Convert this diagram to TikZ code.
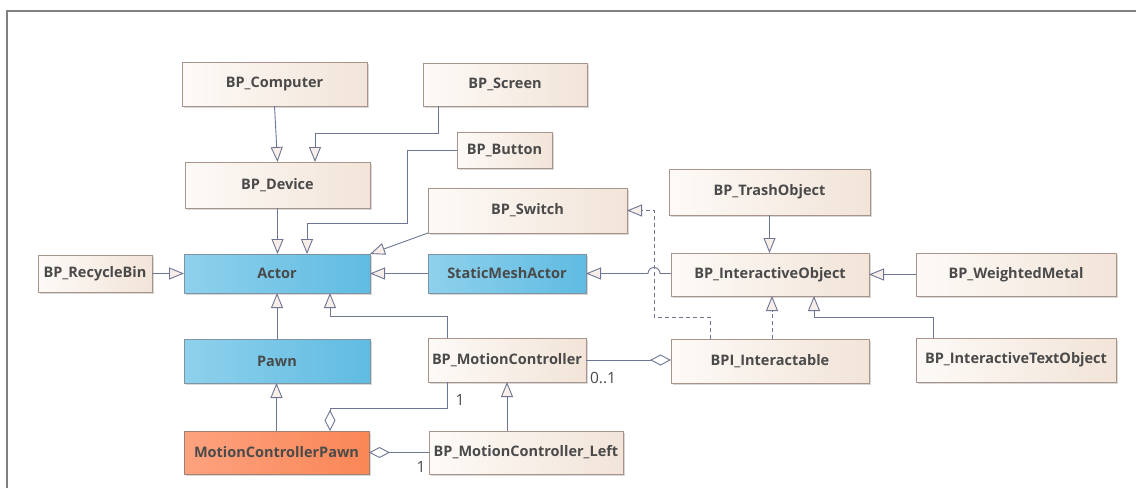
\documentclass[tikz,border=0pt]{standalone}
\usepackage{fontspec}
\setmainfont{Open Sans}
\usetikzlibrary{arrows.meta,shadows}

\definecolor{creamL}{HTML}{FDFAF7}
\definecolor{creamR}{HTML}{F2E4D8}
\definecolor{creamB}{HTML}{A8948A}
\definecolor{blueL}{HTML}{8ED1EC}
\definecolor{blueR}{HTML}{60BBE2}
\definecolor{blueB}{HTML}{7F93A0}
\definecolor{orL}{HTML}{FDA27F}
\definecolor{orR}{HTML}{FA8656}
\definecolor{orB}{HTML}{A08070}
\definecolor{txt}{HTML}{4A4A4A}
\definecolor{conn}{HTML}{6E7694}
\definecolor{tipfill}{HTML}{F7EEEA}
\definecolor{frame}{HTML}{808080}

\tikzset{
  cls/.style={line width=0.8pt, inner sep=0pt, outer sep=0pt,
    font=\bfseries\fontsize{14.5}{16}\selectfont, text=txt,
    drop shadow={shadow xshift=2pt, shadow yshift=-2pt, opacity=0.25, fill=black!60}},
  plain/.style={cls, draw=creamB, left color=creamL, right color=creamR},
  engine/.style={cls, draw=blueB, left color=blueL, right color=blueR},
  pawnbox/.style={cls, draw=orB, left color=orL, right color=orR},
  gen/.style={draw=conn, line width=0.9pt, -{Triangle[length=15pt,width=12pt,fill=tipfill]}},
  real/.style={gen, dash pattern=on 4pt off 3pt},
  agg/.style={draw=conn, line width=0.9pt, {Diamond[length=21pt,width=11pt,fill=white]}-},
  mult/.style={font=\fontsize{15.5}{17}\selectfont, text=txt, inner sep=0pt},
}

\begin{document}
\begin{tikzpicture}[x=1pt, y=-1pt]
\useasboundingbox (0,0) rectangle (1136,488);
\fill[white] (0,0) rectangle (1136,488);

% diagram frame
\draw[frame, line width=1.2pt] (7,488) -- (7,11) -- (1136,11);

% classes
\node[plain, minimum width=185pt, minimum height=44pt] (comp) at (274.5,84) {BP\_Computer};
\node[plain, minimum width=164pt, minimum height=43pt] (screen) at (505,84.5) {BP\_Screen};
\node[plain, minimum width=95pt, minimum height=36pt] (button) at (504.5,150) {BP\_Button};
\node[plain, minimum width=185pt, minimum height=46pt] (device) at (277.5,185) {BP\_Device};
\node[plain, minimum width=199pt, minimum height=45pt] (switch) at (527.5,210.5) {BP\_Switch};
\node[plain, minimum width=201pt, minimum height=46pt] (trash) at (769.5,192) {BP\_TrashObject};
\node[engine, minimum width=186pt, minimum height=39pt] (actor) at (277,273.5) {Actor};
\node[plain, minimum width=114pt, minimum height=37pt] (recycle) at (95,273.5) {BP\_RecycleBin};
\node[engine, minimum width=158pt, minimum height=39pt] (sma) at (507,273.5) {StaticMeshActor};
\node[plain, minimum width=198pt, minimum height=43pt] (io) at (770,274.5) {BP\_InteractiveObject};
\node[plain, minimum width=200pt, minimum height=43pt] (wm) at (1016,274.5) {BP\_WeightedMetal};
\node[engine, minimum width=186pt, minimum height=44pt] (pawn) at (277,361) {Pawn};
\node[plain, minimum width=158pt, minimum height=44pt] (mc) at (507,360) {BP\_MotionController};
\node[plain, minimum width=198pt, minimum height=44pt] (bpi) at (770,361) {BPI\_Interactable};
\node[plain, minimum width=200pt, minimum height=44pt] (ito) at (1016,360) {BP\_InteractiveTextObject};
\node[pawnbox, minimum width=185pt, minimum height=43pt] (mcp) at (276.5,452.5) {MotionControllerPawn};
\node[plain, minimum width=194pt, minimum height=43pt] (mcl) at (526,452.5) {BP\_MotionController\_Left};

% generalizations
\draw[gen] (comp.south) -- (device.north);
\draw[gen] ([xshift=-67pt]screen.south) -- ++(0,27) -| ([xshift=37.5pt]device.north);
\draw[gen] (device.south) -- (device.south |- actor.north);
\draw[gen] (button.west) -- ++(-50,0) -- ++(0,73) -| ([xshift=30pt]actor.north);
\draw[gen] (switch.south west) -- (actor.north east);
\draw[gen] (sma.west) -- (sma.west -| actor.east);
\draw[gen] (sma.east -| io.west) -- ++(-11,0) arc (0:-180:6) -- (sma.east);
\draw[gen] (recycle.east) -- (recycle.east -| actor.west);
\draw[gen] (pawn.north) -- (actor.south);
\draw[gen] ([xshift=-60pt]mc.north) -- ++(0,-22) -| ([xshift=53pt]actor.south);
\draw[gen] (mcp.north) -- (mcp.north |- pawn.south);
\draw[gen] (mcl.north -| mc.south) -- (mc.south);
\draw[gen] (trash.south) -- (trash.south |- io.north);
\draw[gen] (wm.west) -- (wm.west -| io.east);
\draw[gen] ([xshift=-83pt]ito.north) -- ++(0,-21) -| ([xshift=44pt]io.south);

% realizations
\draw[real] ([xshift=-60pt]bpi.north) -- ++(0,-22) -- ++(-56,0) |- (switch.east);
\draw[real] ([xshift=2pt]bpi.north) -- ([xshift=2pt]io.south);

% aggregations
\draw[agg] ([xshift=53.5pt]mcp.north) -- ++(0,-23) -| ([xshift=-60pt]mc.south);
\draw[agg] (mcp.east) -- (mcp.east -| mcl.west);
\draw[agg] (bpi.west |- mc.east) -- (mc.east);

% multiplicities
\node[mult] (m1) at (460,400) {1};
\node[mult] (m2) at (421,467) {1};
\node[mult] (m3) at (603,378) {0..1};
\end{tikzpicture}
\end{document}
